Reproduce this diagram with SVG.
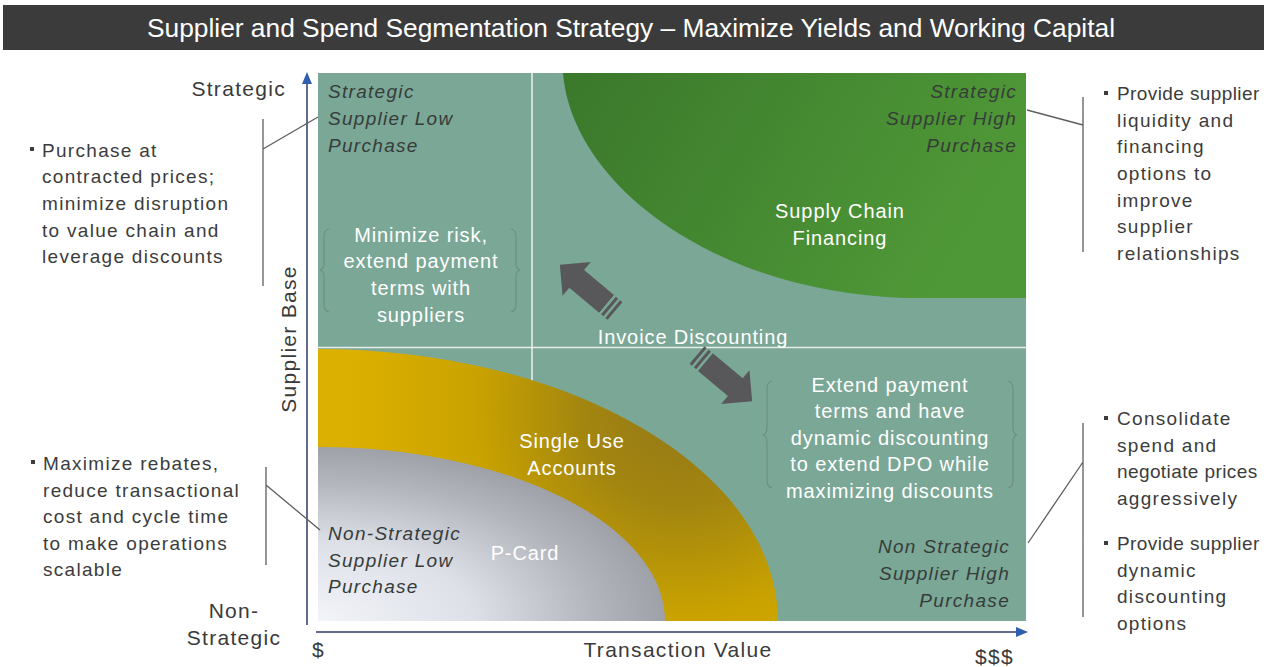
<svg xmlns="http://www.w3.org/2000/svg" xmlns:xlink="http://www.w3.org/1999/xlink" width="1267" height="667" viewBox="0 0 1267 667">
  <style>
    text { font-family: "Liberation Sans", Arial, sans-serif; }
    .title { font-size: 26px; fill: #ffffff; }
    .note { font-size: 19px; fill: #3c3c3c; letter-spacing: 1.3px; }
    .tight { letter-spacing: 0.4px; }
    .axis { font-size: 21px; fill: #3a3a3a; letter-spacing: 1.3px; }
    .quad { font-size: 19px; font-style: italic; fill: #363c39; letter-spacing: 1.3px; }
    .inner { font-size: 20px; fill: #ffffff; letter-spacing: 0.9px; text-anchor: middle; }
    .callout { fill: none; stroke: #5e5e5e; stroke-width: 1.3; }
    .brace { fill: none; stroke: #6d8f85; stroke-width: 1.2; }
    .grid { stroke: #ffffff; stroke-opacity: 0.8; stroke-width: 1.6; }
    .axisline { stroke: #2e3a68; stroke-width: 1.5; }
    .axishead { fill: #2f5fae; }
    .bullet { fill: #3c3c3c; }
  </style>
  <defs>
    <linearGradient id="greenFill" x1="0" y1="0" x2="1" y2="0.3">
      <stop offset="0" stop-color="#3a782b"/>
      <stop offset="1" stop-color="#4f9837"/>
    </linearGradient>
    <radialGradient id="goldFill" gradientUnits="userSpaceOnUse" cx="680" cy="410" r="330">
      <stop offset="0" stop-color="#957818"/>
      <stop offset="0.3" stop-color="#a3860f"/>
      <stop offset="0.62" stop-color="#c9a200"/>
      <stop offset="1" stop-color="#dcb000"/>
    </radialGradient>
    <radialGradient id="greyFill" cx="0" cy="1" r="1">
      <stop offset="0" stop-color="#f2f4f9"/>
      <stop offset="0.45" stop-color="#dde0e7"/>
      <stop offset="0.8" stop-color="#b3b5bd"/>
      <stop offset="1" stop-color="#9fa1a9"/>
    </radialGradient>
    <!-- thick striped arrow, pointing along +x, tail at origin -->
    <g id="fat-arrow" fill="#58585b">
      <rect x="0" y="-11.5" width="3" height="23"/>
      <rect x="5.5" y="-11.5" width="3" height="23"/>
      <path d="M11,-11.5 L50,-11.5 L50,-22 L72,0 L50,22 L50,11.5 L11,11.5 Z"/>
    </g>
  </defs>

  <rect x="0" y="0" width="1267" height="667" fill="#ffffff"/>

  <!-- title bar -->
  <g id="title">
    <rect x="3" y="5" width="1261" height="45" fill="#3b3b3b"/>
    <text class="title" x="631" y="37" text-anchor="middle" textLength="968" lengthAdjust="spacingAndGlyphs">Supplier and Spend Segmentation Strategy – Maximize Yields and Working Capital</text>
  </g>

  <!-- quadrant field -->
  <g id="matrix">
    <rect x="318" y="73" width="708" height="548" fill="#7ba797"/>
    <line class="grid" x1="532" y1="73" x2="532" y2="621"/>
    <line class="grid" x1="318" y1="347.5" x2="1026" y2="347.5"/>
  </g>

  <g id="supply-chain-financing">
    <path d="M563,73 C572,185 715,292 905,298 L1026,298 L1026,73 Z" fill="url(#greenFill)"/>
    <text class="inner" x="840" y="218">Supply Chain</text>
    <text class="inner" x="840" y="245">Financing</text>
  </g>

  <g id="single-use-accounts">
    <path d="M318,349 A460,272 0 0 1 778,621 L318,621 Z" fill="url(#goldFill)"/>
    <text class="inner" x="572" y="448">Single Use</text>
    <text class="inner" x="572" y="475">Accounts</text>
  </g>

  <g id="p-card">
    <path d="M318,447 A347,174 0 0 1 665,621 L318,621 Z" fill="url(#greyFill)"/>
    <text class="inner" x="525" y="560">P-Card</text>
  </g>

  <g id="invoice-discounting">
    <text class="inner" x="693" y="344">Invoice Discounting</text>
  </g>

  <!-- quadrant names -->
  <g id="q-strategic-low">
    <text class="quad" x="328" y="98">Strategic</text>
    <text class="quad" x="328" y="125">Supplier Low</text>
    <text class="quad" x="328" y="152">Purchase</text>
  </g>
  <g id="q-strategic-high">
    <text class="quad" x="1017" y="98" text-anchor="end">Strategic</text>
    <text class="quad" x="1017" y="125" text-anchor="end">Supplier High</text>
    <text class="quad" x="1017" y="152" text-anchor="end">Purchase</text>
  </g>
  <g id="q-nonstrategic-low">
    <text class="quad" x="328" y="540">Non-Strategic</text>
    <text class="quad" x="328" y="567">Supplier Low</text>
    <text class="quad" x="328" y="593">Purchase</text>
  </g>
  <g id="q-nonstrategic-high">
    <text class="quad" x="1010" y="553" text-anchor="end">Non Strategic</text>
    <text class="quad" x="1010" y="580" text-anchor="end">Supplier High</text>
    <text class="quad" x="1010" y="607" text-anchor="end">Purchase</text>
  </g>

  <!-- bracketed guidance inside the field -->
  <g id="minimize-risk">
    <path class="brace" d="M329,229 Q324,230 324,237 L324,263 Q324,269 320,270 Q324,271 324,277 L324,304 Q324,311 329,312"/>
    <path class="brace" d="M511,229 Q516,230 516,237 L516,263 Q516,269 520,270 Q516,271 516,277 L516,304 Q516,311 511,312"/>
    <text class="inner" x="421" y="242">Minimize risk,</text>
    <text class="inner" x="421" y="268">extend payment</text>
    <text class="inner" x="421" y="295">terms with</text>
    <text class="inner" x="421" y="322">suppliers</text>
  </g>
  <g id="extend-payment">
    <path class="brace" d="M772,381 Q767,382 767,389 L767,428 Q767,434 763,435 Q767,436 767,442 L767,480 Q767,487 772,488"/>
    <path class="brace" d="M1008,381 Q1013,382 1013,389 L1013,428 Q1013,434 1017,435 Q1013,436 1013,442 L1013,480 Q1013,487 1008,488"/>
    <text class="inner" x="890" y="392">Extend payment</text>
    <text class="inner" x="890" y="418">terms and have</text>
    <text class="inner" x="890" y="445">dynamic discounting</text>
    <text class="inner" x="890" y="471">to extend DPO while</text>
    <text class="inner" x="890" y="498">maximizing discounts</text>
  </g>

  <!-- axes -->
  <g id="axes">
    <line class="axisline" x1="307" y1="625" x2="307" y2="82"/>
    <path class="axishead" d="M307,72 L312,84 L302,84 Z"/>
    <line class="axisline" x1="316" y1="632" x2="1018" y2="632"/>
    <path class="axishead" d="M1028,632 L1016,627 L1016,637 Z"/>
    <text class="axis" x="286" y="96" text-anchor="end">Strategic</text>
    <text class="axis" x="234" y="618" text-anchor="middle">Non-</text>
    <text class="axis" x="234" y="645" text-anchor="middle">Strategic</text>
    <text class="axis" transform="translate(296,339) rotate(-90)" text-anchor="middle">Supplier Base</text>
    <text class="axis" x="312" y="657">$</text>
    <text class="axis" x="678" y="657" text-anchor="middle">Transaction Value</text>
    <text class="axis" x="975" y="664">$$$</text>
  </g>

  <!-- side notes -->
  <g id="note-strategic-low">
    <rect class="bullet" x="30" y="147" width="4" height="4"/>
    <text class="note" x="42" y="157">Purchase at</text>
    <text class="note" x="42" y="183">contracted prices;</text>
    <text class="note" x="42" y="210">minimize disruption</text>
    <text class="note" x="42" y="237">to value chain and</text>
    <text class="note" x="42" y="263">leverage discounts</text>
  </g>
  <g id="note-nonstrategic-low">
    <rect class="bullet" x="31" y="460" width="4" height="4"/>
    <text class="note" x="43" y="470">Maximize rebates,</text>
    <text class="note" x="43" y="497">reduce transactional</text>
    <text class="note" x="43" y="523">cost and cycle time</text>
    <text class="note" x="43" y="550">to make operations</text>
    <text class="note" x="43" y="576">scalable</text>
  </g>
  <g id="note-strategic-high">
    <rect class="bullet" x="1104" y="91" width="4" height="4"/>
    <text class="note tight" x="1117" y="100">Provide supplier</text>
    <text class="note" x="1117" y="127">liquidity and</text>
    <text class="note" x="1117" y="153">financing</text>
    <text class="note" x="1117" y="180">options to</text>
    <text class="note" x="1117" y="207">improve</text>
    <text class="note" x="1117" y="233">supplier</text>
    <text class="note" x="1117" y="260">relationships</text>
  </g>
  <g id="note-nonstrategic-high">
    <rect class="bullet" x="1104" y="416" width="4" height="4"/>
    <text class="note" x="1117" y="425">Consolidate</text>
    <text class="note" x="1117" y="452">spend and</text>
    <text class="note tight" x="1117" y="478">negotiate prices</text>
    <text class="note" x="1117" y="505">aggressively</text>
    <rect class="bullet" x="1104" y="541" width="4" height="4"/>
    <text class="note tight" x="1117" y="550">Provide supplier</text>
    <text class="note" x="1117" y="577">dynamic</text>
    <text class="note" x="1117" y="603">discounting</text>
    <text class="note" x="1117" y="630">options</text>
  </g>

  <!-- connectors: callout brackets and movement arrows -->
  <g id="connectors">
    <path class="callout" d="M263,119 L263,286 M263,149 L318,117"/>
    <path class="callout" d="M266,467 L266,565 M266,485 L320,530"/>
    <path class="callout" d="M1083,97 L1083,252 M1083,125 L1027,110"/>
    <path class="callout" d="M1083,423 L1083,617 M1083,462 L1028,543"/>
    <use xlink:href="#fat-arrow" transform="translate(615,311) rotate(220)"/>
    <use xlink:href="#fat-arrow" transform="translate(697,355) rotate(40)"/>
  </g>
</svg>
